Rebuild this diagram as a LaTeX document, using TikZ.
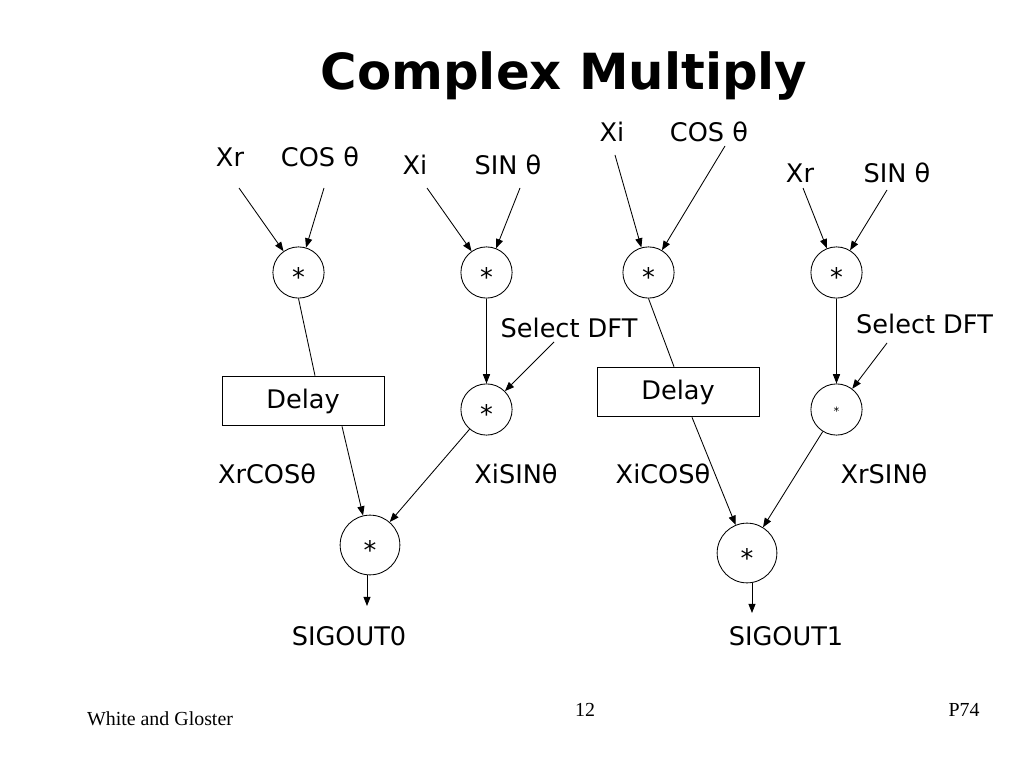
\documentclass[tikz,border=0pt]{standalone}
\usepackage{fontspec}
\setmainfont{DejaVu Sans}
\newfontfamily\footfont{Liberation Serif}
\usetikzlibrary{arrows.meta}

\newcommand{\starmark}{\raisebox{-0.56em}[0pt][0pt]{*}}

\tikzset{
	mult/.style={circle,draw,line width=0.6pt,minimum size=36pt,inner sep=0pt},
	bigmult/.style={circle,draw,line width=0.6pt,minimum size=42pt,inner sep=0pt},
	delaybox/.style={rectangle,draw,line width=0.6pt,minimum width=114pt,minimum height=35pt,inner sep=0pt},
	lbl/.style={anchor=base,inner sep=0pt,font=\fontsize{18}{20}\selectfont},
	foot/.style={anchor=base,inner sep=0pt,font=\footfont\fontsize{14}{16}\selectfont},
	wire/.style={line width=0.6pt},
	arr/.style={line width=0.6pt,-{Triangle[length=6.5pt,width=5pt]}}
}

\begin{document}
\begin{tikzpicture}[x=0.703125pt,y=-0.703125pt]
		\useasboundingbox (0,0) rectangle (1024,768);
		
		\node[anchor=base,inner sep=0pt,font=\bfseries\fontsize{35}{40}\selectfont] (title) at (564,90) {Complex Multiply};
		
		\node[lbl] (xra) at (230,167) {Xr};
		\node[lbl] (cosa) at (320,167) {COS θ};
		\node[lbl] (xia) at (415,175) {Xi};
		\node[lbl] (sina) at (508,175) {SIN θ};
		\node[lbl] (xib) at (612,142) {Xi};
		\node[lbl] (cosb) at (709,142) {COS θ};
		\node[lbl] (xrb) at (800,183) {Xr};
		\node[lbl] (sinb) at (897,183) {SIN θ};
		
		\coordinate (txra) at (239,188);
		\coordinate (tcosa) at (324,188);
		\coordinate (txia) at (427,188);
		\coordinate (tsina) at (520,188);
		\coordinate (txib) at (615,155);
		\coordinate (tcosb) at (725,146);
		\coordinate (txrb) at (803,188);
		\coordinate (tsinb) at (887,190);
		\coordinate (tsela) at (554,342);
		\coordinate (tselb) at (887,343);
		
		\node[mult,font=\fontsize{18}{20}\selectfont] (ma) at (298.5,272.5) {\starmark};
		\node[mult,font=\fontsize{18}{20}\selectfont] (mb) at (486.5,272.5) {\starmark};
		\node[mult,font=\fontsize{18}{20}\selectfont] (mc) at (648.5,272.5) {\starmark};
		\node[mult,font=\fontsize{18}{20}\selectfont] (md) at (836.5,272.5) {\starmark};
		\node[mult,font=\fontsize{18}{20}\selectfont] (sb) at (486.5,409.5) {\starmark};
		\node[mult,font=\fontsize{8}{10}\selectfont] (sd) at (836.5,409.5) {\starmark};
		
		\node[delaybox,font=\fontsize{18}{20}\selectfont] (dla) at (303,401) {Delay};
		\node[delaybox,font=\fontsize{18}{20}\selectfont] (dlb) at (678,392) {Delay};
		
		\node[lbl] (sela) at (569,337) {Select DFT};
		\node[lbl] (selb) at (924.5,334) {Select DFT};
		
		\node[lbl] (pa) at (267,483) {XrCOSθ};
		\node[lbl] (pb) at (516,483) {XiSINθ};
		\node[lbl] (pc) at (663,483) {XiCOSθ};
		\node[lbl] (pd) at (884,483) {XrSINθ};
		
		\node[bigmult,font=\fontsize{18}{20}\selectfont] (oa) at (370,545) {\starmark};
		\node[bigmult,font=\fontsize{18}{20}\selectfont] (ob) at (747,553) {\starmark};
		
		\coordinate (ea) at (367,606);
		\coordinate (eb) at (752,613);
		
		\node[lbl] (siga) at (349,645) {SIGOUT0};
		\node[lbl] (sigb) at (786,645) {SIGOUT1};
		
		\draw[arr] (txra) -- (ma);
		\draw[arr] (tcosa) -- (ma);
		\draw[arr] (txia) -- (mb);
		\draw[arr] (tsina) -- (mb);
		\draw[arr] (txib) -- (mc);
		\draw[arr] (tcosb) -- (mc);
		\draw[arr] (txrb) -- (md);
		\draw[arr] (tsinb) -- (md);
		
		\draw[wire] (ma.south) -- ([shift={(12,0)}]dla.north);
		\draw[wire] (mc.south) -- ([shift={(-4,0)}]dlb.north);
		\draw[arr] (mb) -- (sb);
		\draw[arr] (md) -- (sd);
		\draw[arr] (tsela) -- (sb);
		\draw[arr] (tselb) -- (sd);
		
		\draw[arr] ([shift={(39,0)}]dla.south) -- (oa);
		\draw[arr] (sb) -- (oa);
		\draw[arr] ([shift={(14,0)}]dlb.south) -- (ob);
		\draw[arr] (sd) -- (ob);
		
		\draw[arr] ([shift={(-3,0)}]oa.south) -- (ea);
		\draw[arr] ([shift={(5,0)}]ob.south) -- (eb);
		
		\node[foot] (auth) at (160,725) {White and Gloster};
		\node[foot] (page) at (585,716) {12};
		\node[foot] (code) at (964,716) {P74};
\end{tikzpicture}
\end{document}
